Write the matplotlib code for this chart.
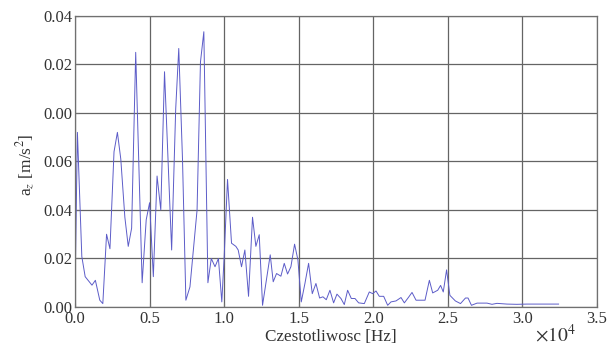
import numpy as np
import matplotlib
matplotlib.use("Agg")
import matplotlib.pyplot as plt
from matplotlib.ticker import FuncFormatter, FixedLocator

plt.rcParams["font.family"] = ["Liberation Serif", "DejaVu Serif"]
plt.rcParams["mathtext.fontset"] = "stix"

# frequency [Hz] and amplitude a_z [m/s^2]
freq = [0, 160, 455, 680, 1136, 1364, 1660, 1864, 2114, 2341, 2614, 2841,
        3068, 3341, 3568, 3795, 4068, 4500, 4773, 5000, 5250, 5500, 5750,
        6000, 6478, 6750, 6955, 7205, 7432, 7705, 8182, 8410, 8636, 8909,
        9136, 9386, 9614, 9841, 10000, 10224, 10492, 10783, 10940, 11163,
        11387, 11633, 11900, 12125, 12350, 12572, 13087, 13288, 13512,
        13803, 14027, 14250, 14474, 14720, 14944, 15168, 15414, 15660,
        15906, 16152, 16398, 16621, 16845, 17091, 17337, 17561, 17829,
        18053, 18277, 18523, 18770, 19015, 19395, 19730, 19955, 20178,
        20400, 20693, 20961, 21185, 21520, 21855, 22080, 22348, 22594,
        22863, 23466, 23757, 23980, 24316, 24511, 24689, 24911, 25133,
        25500, 25844, 26178, 26350, 26578, 26955, 27300, 27622, 27955,
        28289, 28956, 29622, 30300, 31000, 31700, 32420]
amp = [0.0069, 0.072, 0.0208, 0.0125, 0.009, 0.011, 0.0028, 0.0014, 0.030,
       0.024, 0.064, 0.072, 0.061, 0.037, 0.025, 0.0325, 0.105, 0.010,
       0.036, 0.043, 0.0125, 0.054, 0.040, 0.097, 0.0235, 0.0817, 0.1066,
       0.061, 0.0028, 0.0083, 0.040, 0.101, 0.1135, 0.010, 0.020, 0.0166,
       0.020, 0.0021, 0.0208, 0.0526, 0.0263, 0.025, 0.0235, 0.0166,
       0.0235, 0.0044, 0.037, 0.025, 0.0298, 0.0007, 0.0215, 0.0104,
       0.0138, 0.0127, 0.018, 0.0136, 0.0166, 0.0259, 0.0194, 0.0021,
       0.0097, 0.018, 0.0055, 0.0097, 0.0037, 0.0042, 0.003, 0.0069,
       0.0017, 0.0053, 0.0035, 0.001, 0.0069, 0.0035, 0.0035, 0.0017,
       0.0014, 0.0062, 0.0055, 0.0066, 0.0044, 0.0044, 0.0007, 0.0021,
       0.0025, 0.0039, 0.0017, 0.0039, 0.006, 0.0028, 0.0028, 0.011,
       0.0058, 0.0069, 0.0089, 0.0062, 0.0153, 0.0048, 0.0025, 0.0014,
       0.0037, 0.0037, 0.0007, 0.0016, 0.0016, 0.0016, 0.0011, 0.0015,
       0.0012, 0.0011, 0.0012, 0.0012, 0.0012, 0.0012]

y_ticks = [0.0, 0.02, 0.04, 0.06, 0.08, 0.10, 0.12]
y_labels = ["0.00", "0.02", "0.04", "0.06", "0.00", "0.02", "0.04"]
x_ticks = [0, 5000, 10000, 15000, 20000, 25000, 30000, 35000]

fig = plt.figure(figsize=(6.08, 3.47), dpi=100)
ax = fig.add_axes([0.1234, 0.1153, 0.8586, 0.8387])

ax.plot(freq, amp, color="#5c5cc8", linewidth=0.7)

ax.set_xlim(0, 35000)
ax.set_ylim(0, 0.12)
ax.xaxis.set_major_locator(FixedLocator(x_ticks))
ax.xaxis.set_major_formatter(FuncFormatter(lambda v, p: "%.1f" % (v / 1e4)))
ax.set_yticks(y_ticks)
ax.set_yticklabels(y_labels)

ax.grid(True, color="#646464", linewidth=0.9)
for s in ax.spines.values():
    s.set_color("#707070")
    s.set_linewidth(0.9)
ax.tick_params(direction="in", length=3, color="#707070", labelsize=12,
               labelcolor="#333333")
ax.tick_params(axis="x", pad=3)
ax.tick_params(axis="y", pad=2)

ax.set_xlabel("Czestotliwosc [Hz]", fontsize=12.3, color="#333333")
ax.xaxis.set_label_coords(0.49, -0.075)
ax.set_ylabel(r"a$_z$ [m/s$^2$]", fontsize=12.5, color="#333333")
ax.yaxis.set_label_coords(-0.073, 0.49)
fig.text(0.913, 0.015, r"$\times 10^4$", fontsize=14, color="#333333",
         ha="center", va="baseline")

fig.savefig("out.png", dpi=100)
